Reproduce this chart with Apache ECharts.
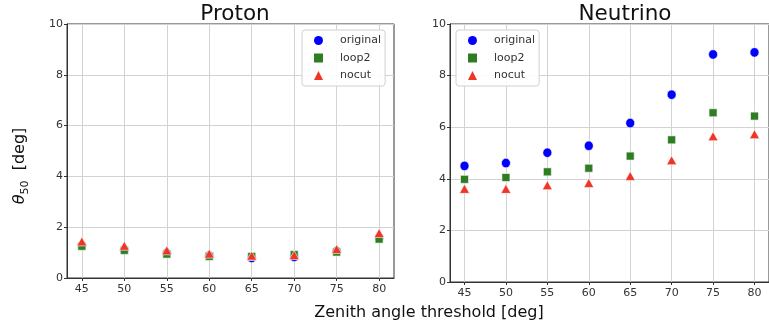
<!DOCTYPE html>
<html lang="en">
<head>
    <meta charset="UTF-8">
    <script src="https://cdn.jsdelivr.net/npm/echarts@6/dist/echarts.min.js"></script>
    <style>
        html, body { margin: 0; padding: 0; background: #fff; }
    </style>
</head>
<body>
    <div id="main" style="width: 769px; height: 336px;"></div>

    <script>
        // zenith angle thresholds (deg)
        var thresholds = [45, 50, 55, 60, 65, 70, 75, 80];

        // theta50 [deg], proton
        var protonOriginal = [1.27, 1.11, 0.98, 0.88, 0.79, 0.83, 1.05, 1.58];
        var protonLoop2    = [1.25, 1.09, 0.94, 0.85, 0.85, 0.92, 1.02, 1.53];
        var protonNocut    = [1.44, 1.27, 1.09, 0.96, 0.88, 0.90, 1.14, 1.77];

        // theta50 [deg], neutrino
        var nuOriginal = [4.50, 4.61, 5.01, 5.28, 6.16, 7.26, 8.82, 8.90];
        var nuLoop2    = [3.98, 4.05, 4.27, 4.41, 4.88, 5.51, 6.56, 6.43];
        var nuNocut    = [3.61, 3.61, 3.75, 3.84, 4.11, 4.72, 5.65, 5.73];

        var seriesNames = ['original', 'loop2', 'nocut'];
        var colors = ['#0000ff', '#2e7d22', '#ee3526'];
        var symbols = ['circle', 'rect', 'triangle'];
        var sizes = [[9, 9.5], 8, [10, 9]];
        var legendSizes = [8, 7, 8];

        function pairs(vals) {
            return thresholds.map(function (t, i) { return [t, vals[i]]; });
        }

        var font = 'DejaVu Sans';

        function xAxis(idx) {
            return {
                type: 'value',
                gridIndex: idx,
                min: 43.25,
                max: 81.75,
                axisLine: { show: true, lineStyle: { color: '#333', width: 1 } },
                axisTick: { show: true, length: 3, customValues: thresholds, lineStyle: { color: '#333' } },
                axisLabel: { customValues: thresholds, margin: 6, color: '#333', fontSize: 11, fontFamily: font },
                splitLine: { show: true, lineStyle: { color: '#d3d3d3', width: 1 } }
            };
        }

        function yAxis(idx) {
            return {
                type: 'value',
                gridIndex: idx,
                min: 0,
                max: 10,
                interval: 2,
                axisLine: { show: true, lineStyle: { color: '#333', width: 1 } },
                axisTick: { show: true, length: 3, lineStyle: { color: '#333' } },
                axisLabel: { margin: 4, color: '#333', fontSize: 11, fontFamily: font },
                splitLine: { show: true, lineStyle: { color: '#d3d3d3', width: 1 } }
            };
        }

        var data = [
            [protonOriginal, protonLoop2, protonNocut],
            [nuOriginal, nuLoop2, nuNocut]
        ];

        var series = [];
        data.forEach(function (panel, p) {
            panel.forEach(function (vals, k) {
                series.push({
                    name: seriesNames[k],
                    type: 'scatter',
                    xAxisIndex: p,
                    yAxisIndex: p,
                    symbol: symbols[k],
                    symbolSize: sizes[k],
                    itemStyle: { color: colors[k], borderColor: '#fff', borderWidth: 0.6, opacity: 1 },
                    data: pairs(vals),
                    z: 3 + k
                });
            });
        });

        function legend(left) {
            return {
                orient: 'vertical',
                left: left,
                top: 30,
                width: 90,
                padding: [4, 4, 4, 12],
                itemWidth: 9,
                itemHeight: 9,
                itemGap: 4.5,
                symbolKeepAspect: true,
                backgroundColor: 'rgba(255,255,255,0.9)',
                borderColor: '#d0d0d0',
                borderWidth: 1,
                borderRadius: 3,
                textStyle: { fontSize: 11, color: '#333', fontFamily: font, lineHeight: 13, padding: [0, 0, 0, 12] },
                data: seriesNames.map(function (n, k) {
                    return { name: n, icon: symbols[k], itemStyle: { borderWidth: 0 } };
                })
            };
        }

        var chart = echarts.init(document.getElementById('main'));

        chart.setOption({
            animation: false,
            backgroundColor: '#fff',
            title: [
                { text: 'Proton', left: 230, top: -2, textAlign: 'center',
                  textStyle: { fontSize: 21.5, fontWeight: 'normal', color: '#111', fontFamily: font } },
                { text: 'Neutrino', left: 620, top: -2, textAlign: 'center',
                  textStyle: { fontSize: 21.5, fontWeight: 'normal', color: '#111', fontFamily: font } }
            ],
            grid: [
                { left: 67, top: 24, width: 327, height: 254, show: true, borderColor: '#333', borderWidth: 1, backgroundColor: '#fff' },
                { left: 450, top: 24, width: 329, height: 258, show: true, borderColor: '#333', borderWidth: 1, backgroundColor: '#fff' }
            ],
            xAxis: [xAxis(0), xAxis(1)],
            yAxis: [yAxis(0), yAxis(1)],
            legend: [legend(302), legend(456)],
            series: series,
            graphic: [
                {
                    type: 'text',
                    x: 20,
                    y: 166,
                    rotation: Math.PI / 2,
                    style: {
                        text: '{th|θ}{sub|50}  [deg]',
                        textAlign: 'center',
                        textVerticalAlign: 'middle',
                        fill: '#111',
                        rich: {
                            th: { fontSize: 16, fontStyle: 'italic', fontFamily: font, lineHeight: 22, verticalAlign: 'middle' },
                            sub: { fontSize: 11, fontFamily: font, lineHeight: 22, verticalAlign: 'bottom' }
                        },
                        fontSize: 16,
                        fontFamily: font
                    }
                },
                {
                    type: 'text',
                    x: 429,
                    y: 313,
                    style: {
                        text: 'Zenith angle threshold [deg]',
                        textAlign: 'center',
                        textVerticalAlign: 'middle',
                        fontSize: 16,
                        fontFamily: font,
                        fill: '#111'
                    }
                }
            ]
        });
    </script>
</body>
</html>
